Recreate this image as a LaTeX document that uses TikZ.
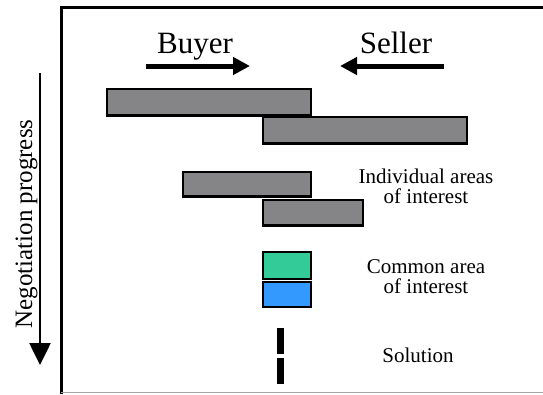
\documentclass[tikz,border=0pt]{standalone}
\usepackage{fontspec}
\setmainfont{Liberation Serif}
\usetikzlibrary{arrows.meta}
\definecolor{bargray}{HTML}{858486}
\definecolor{cgreen}{HTML}{33CC99}
\definecolor{cblue}{HTML}{3399FF}
\tikzset{
  bar/.style={draw=black, line width=1.6pt, fill=bargray, inner sep=0pt, rectangle},
  cbox/.style={draw=black, line width=2.4pt, inner sep=0pt, rectangle},
  sol/.style={fill=black, inner sep=0pt, rectangle, minimum width=7pt, minimum height=26pt},
  lbl/.style={font=\fontsize{21}{24}\selectfont, inner sep=0pt, anchor=base},
  big/.style={font=\fontsize{31}{34}\selectfont, inner sep=0pt, anchor=base},
  hdarrow/.style={line width=5pt, -{Triangle[width=17pt,length=17pt]}}
}
\begin{document}
\begin{tikzpicture}[x=1pt,y=-1pt]
\useasboundingbox (0,0) rectangle (543,394);
% frame
\coordinate (ftl) at (61,7);
\coordinate (ftr) at (543,7);
\coordinate (fbl) at (61,394);
\coordinate (fbb) at (61,392.5);
\coordinate (fbr) at (543,392.5);
\draw[line width=3pt] (ftr) -- (ftl) -- (fbl);
\draw[line width=1.2pt, gray!70] (fbb) -- (fbr);
% vertical progress arrow
\coordinate (vs) at (40,73);
\coordinate (ve) at (40,365);
\draw[line width=2.6pt, -{Triangle[width=21pt,length=22pt]}] (vs) -- (ve);
\node[font=\fontsize{25}{28}\selectfont, inner sep=0pt, anchor=base, rotate=90] (np) at (32,224) {Negotiation progress};
% buyer / seller
\node[big] (buyer) at (195,53) {Buyer};
\node[big] (seller) at (396,53) {Seller};
\coordinate (bs) at (146,66);
\coordinate (be) at (250,66);
\coordinate (ss) at (444,66);
\coordinate (se) at (340,66);
\draw[hdarrow] (bs) -- (be);
\draw[hdarrow] (ss) -- (se);
% bars
\node[bar, minimum width=204pt, minimum height=26pt] (b1) at (209,102) {};
\node[bar, minimum width=204pt, minimum height=26pt] (b2) at (365,130) {};
\node[bar, minimum width=128pt, minimum height=24pt] (b3) at (247,184) {};
\node[bar, minimum width=100pt, minimum height=25pt] (b4) at (313,212.5) {};
\foreach \b in {b1,b2,b3,b4} \draw[line width=3pt] (\b.south west) -- (\b.south east);
% common area
\node[cbox, fill=cgreen, minimum width=48pt, minimum height=27pt] (g) at (287,265.5) {};
\node[cbox, fill=cblue, minimum width=48pt, minimum height=25pt] (bl) at (287,294.5) {};
% solution
\node[sol] (s1) at (280.5,341) {};
\node[sol] (s2) at (280.5,371) {};
% labels
\node[lbl] (ia1) at (426,183) {Individual areas};
\node[lbl] (ia2) at (426,203) {of interest};
\node[lbl] (ca1) at (426,273) {Common area};
\node[lbl] (ca2) at (426,293) {of interest};
\node[lbl] (so) at (418,362) {Solution};
\end{tikzpicture}
\end{document}
